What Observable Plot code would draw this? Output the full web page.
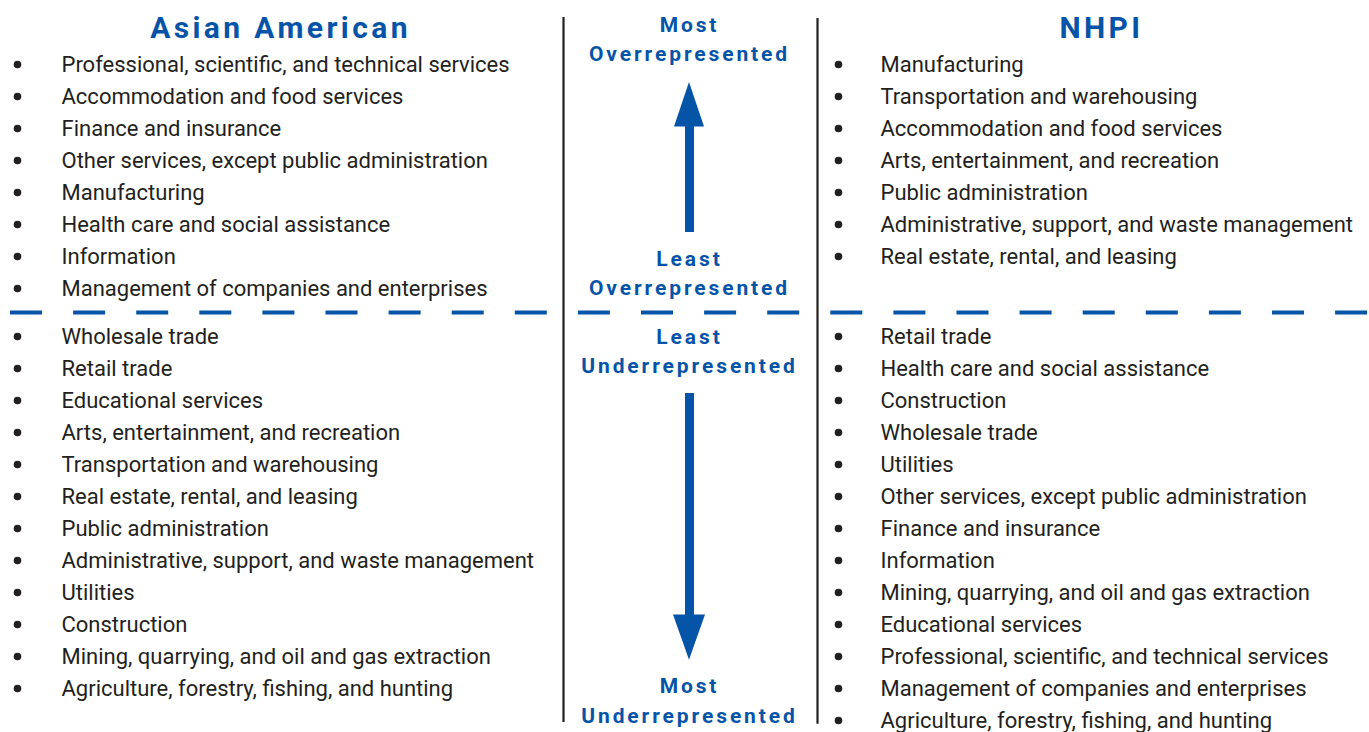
<!DOCTYPE html>
<html>
<head>
<meta charset="utf-8">
<script src="https://cdn.jsdelivr.net/npm/d3@7"></script>
<script src="https://cdn.jsdelivr.net/npm/@observablehq/plot@0.6"></script>
<style>
  html, body { margin: 0; padding: 0; background: #fff; }
  #chart svg { display: block; }
</style>
</head>
<body>
<div id="chart"></div>
<script>
// ---- data ----
const groups = ["Asian American", "NHPI"];
const asianOver = [
  "Professional, scientific, and technical services",
  "Accommodation and food services",
  "Finance and insurance",
  "Other services, except public administration",
  "Manufacturing",
  "Health care and social assistance",
  "Information",
  "Management of companies and enterprises"
];
const asianUnder = [
  "Wholesale trade",
  "Retail trade",
  "Educational services",
  "Arts, entertainment, and recreation",
  "Transportation and warehousing",
  "Real estate, rental, and leasing",
  "Public administration",
  "Administrative, support, and waste management",
  "Utilities",
  "Construction",
  "Mining, quarrying, and oil and gas extraction",
  "Agriculture, forestry, fishing, and hunting"
];
const nhpiOver = [
  "Manufacturing",
  "Transportation and warehousing",
  "Accommodation and food services",
  "Arts, entertainment, and recreation",
  "Public administration",
  "Administrative, support, and waste management",
  "Real estate, rental, and leasing"
];
const nhpiUnder = [
  "Retail trade",
  "Health care and social assistance",
  "Construction",
  "Wholesale trade",
  "Utilities",
  "Other services, except public administration",
  "Finance and insurance",
  "Information",
  "Mining, quarrying, and oil and gas extraction",
  "Educational services",
  "Professional, scientific, and technical services",
  "Management of companies and enterprises",
  "Agriculture, forestry, fishing, and hunting"
];
const centerLabels = [
  ["Most", "Overrepresented"],
  ["Least", "Overrepresented"],
  ["Least", "Underrepresented"],
  ["Most", "Underrepresented"]
];

// ---- layout (slot units on y: one list row = 1) ----
const BLUE = "#0654a8", INK = "#231f20";
const FONT = "Roboto, 'Noto Sans', sans-serif";
const colBullet = {"Asian American": 17, "NHPI": 838};
const colText = {"Asian American": 61, "NHPI": 880};
const colTitle = {"Asian American": 280, "NHPI": 1101};
const midX = 689;
const underStart = 8.5;

const items = [];
asianOver.forEach((t, i) => items.push({group: "Asian American", text: t, slot: i}));
asianUnder.forEach((t, i) => items.push({group: "Asian American", text: t, slot: underStart + i}));
nhpiOver.forEach((t, i) => items.push({group: "NHPI", text: t, slot: i}));
nhpiUnder.forEach((t, i) => items.push({group: "NHPI", text: t, slot: underStart + i}));

const titles = groups.map(g => ({group: g, slot: -1.12}));
const centerSlots = [[-1.22, -0.31], [6.1, 7.0], [8.53, 9.44], [19.44, 20.38]];
const centerTexts = [];
centerLabels.forEach((pair, k) => pair.forEach((t, j) => centerTexts.push({text: t, slot: centerSlots[k][j]})));

const upHead = [{slot: 0.56, x1: midX, x2: midX}, {slot: 1.95, x1: midX - 15, x2: midX + 15}];
const downHead = [{slot: 17.2, x1: midX - 16, x2: midX + 16}, {slot: 18.62, x1: midX, x2: midX}];

const plot = Plot.plot({
  width: 1369,
  height: 732,
  margin: 0,
  x: {domain: [0, 1369], range: [0, 1369], axis: null},
  y: {domain: [-2, 20.875], range: [0, 732], axis: null},
  style: {background: "#fff"},
  marks: [
    // vertical separators
    Plot.ruleX([563], {y1: -1.47, y2: 20.56, stroke: INK, strokeWidth: 2.2}),
    Plot.ruleX([817], {y1: -1.44, y2: 20.62, stroke: INK, strokeWidth: 2.2}),
    // dashed divider
    Plot.ruleY([7.75], {x1: 10, x2: 1369, stroke: BLUE, strokeWidth: 4, strokeDasharray: "32,31.1"}),
    // arrows
    Plot.ruleX([midX], {y1: 1.8, y2: 5.25, stroke: BLUE, strokeWidth: 9}),
    Plot.areaX(upHead, {y: "slot", x1: "x1", x2: "x2", fill: BLUE}),
    Plot.ruleX([midX], {y1: 10.28, y2: 17.3, stroke: BLUE, strokeWidth: 9}),
    Plot.areaX(downHead, {y: "slot", x1: "x1", x2: "x2", fill: BLUE}),
    // titles
    Plot.text(titles, {x: d => colTitle[d.group], y: "slot", text: "group", fill: BLUE,
      fontSize: 30, fontWeight: 700, fontFamily: FONT, textAnchor: "middle", lineAnchor: "middle"}),
    // center labels
    Plot.text(centerTexts, {x: midX, y: "slot", text: "text", fill: BLUE,
      fontSize: 21, fontWeight: 700, fontFamily: FONT, textAnchor: "middle", lineAnchor: "middle"}),
    // bullets
    Plot.dot(items, {x: d => colBullet[d.group], y: "slot", r: 3.8, fill: INK, stroke: null}),
    // items
    Plot.text(items, {x: d => colText[d.group], y: "slot", text: "text", fill: INK,
      fontSize: 22, fontFamily: FONT, textAnchor: "start", lineAnchor: "middle"})
  ]
});
// letter spacing for blue headings
d3.select(plot).selectAll("g[aria-label=text]").each(function(_, i) {
  if (i === 0) d3.select(this).style("letter-spacing", "3.4px");
  if (i === 1) d3.select(this).style("letter-spacing", "2.9px");
});
document.getElementById("chart").appendChild(plot);
</script>
</body>
</html>
